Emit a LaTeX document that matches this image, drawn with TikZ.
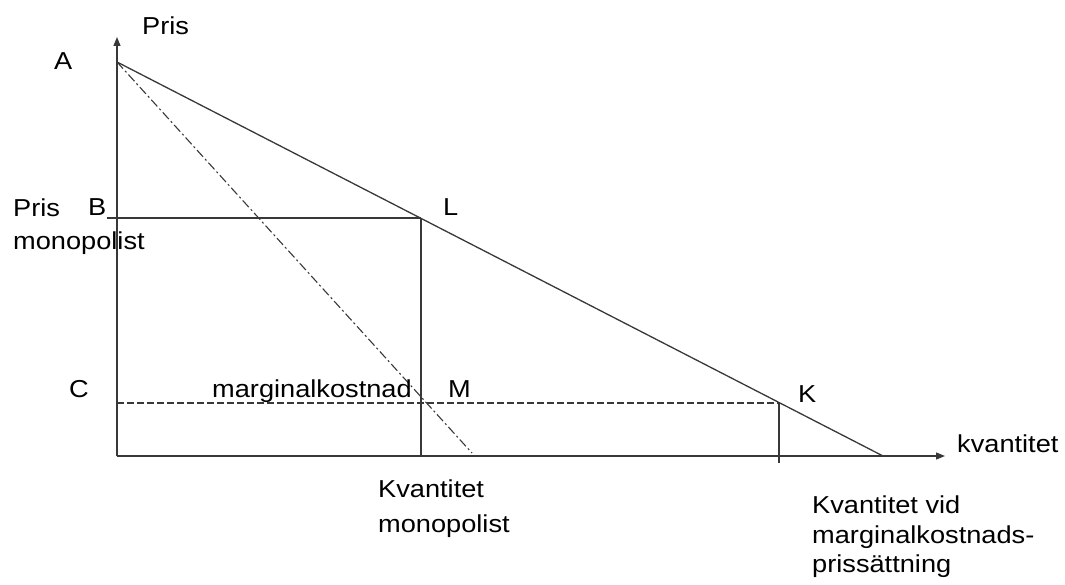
\documentclass[tikz,border=0pt]{standalone}
\usepackage{fontspec}
\setmainfont{Liberation Sans}[FakeStretch=1.11]
\usetikzlibrary{arrows.meta}
\begin{document}
\begin{tikzpicture}[x=1pt,y=-1pt,
  curve/.style={line width=1.3pt,draw=black!78},
  axis/.style={curve,-{Triangle[length=9pt,width=7pt]}},
  mcdash/.style={curve,dash pattern=on 7pt off 3pt},
  mrdash/.style={curve,line width=1.1pt,dash pattern=on 9pt off 3pt on 2pt off 3pt},
  lbl/.style={inner sep=0pt,anchor=base west,font=\fontsize{24.5}{30}\selectfont}]
\useasboundingbox (0,0) rectangle (1065,585);

% key points
\coordinate (O) at (117,456);
\coordinate (Ytop) at (117,37);
\coordinate (Xend) at (945,456);
\coordinate (A) at (117,62);
\coordinate (Dend) at (883,456);
\coordinate (Bstart) at (107,218);
\coordinate (L) at (421,218);
\coordinate (Lfoot) at (421,456);
\coordinate (M) at (421,403);
\coordinate (K) at (779,403);
\coordinate (Kfoot) at (779,463);
\coordinate (MRend) at (472,453);

% axes
\draw[axis] (O) -- (Ytop);
\draw[axis] (O) -- (Xend);

% demand and marginal revenue
\draw[curve] (A) -- (Dend);
\draw[mrdash] (A) -- (MRend);

% monopoly price and quantity
\draw[curve] (Bstart) -- (L);
\draw[curve] (L) -- (Lfoot);

% marginal cost level and its quantity
\draw[mcdash] (O |- K) -- (K);
\draw[curve] (K) -- (Kfoot);

% labels
\node[lbl] (tPris) at (142,35) {Pris};
\node[lbl] (tA) at (54,70) {A};
\node[lbl] (tB) at (88,216) {B};
\node[lbl] (tL) at (443,216) {L};
\node[lbl] (tPm1) at (13,217) {Pris};
\node[lbl] (tPm2) at (13,250) {monopolist};
\node[lbl] (tC) at (69,397) {C};
\node[lbl] (tMk) at (212,397) {marginalkostnad};
\node[lbl] (tM) at (448,397) {M};
\node[lbl] (tK) at (798,402) {K};
\node[lbl] (tX) at (957,452) {kvantitet};
\node[lbl] (tQm1) at (378,497) {Kvantitet};
\node[lbl] (tQm2) at (378,532) {monopolist};
\node[lbl] (tQk1) at (812,513) {Kvantitet vid};
\node[lbl] (tQk2) at (812,543) {marginalkostnads-};
\node[lbl] (tQk3) at (812,572) {prissättning};
\end{tikzpicture}
\end{document}
